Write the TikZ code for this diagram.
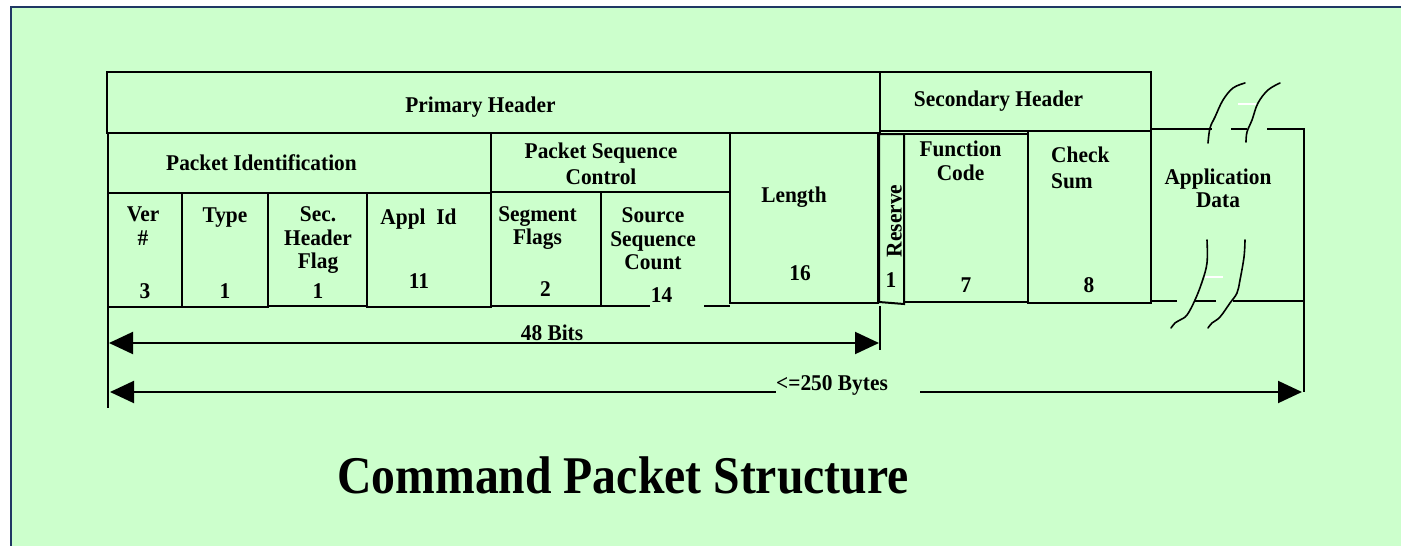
\documentclass[tikz,border=0pt]{standalone}
\usepackage{fontspec}
\setmainfont{Liberation Serif}[FakeStretch=0.95]
\newfontfamily\titlefont{Liberation Serif}[FakeStretch=0.9]
\usetikzlibrary{arrows.meta}
\definecolor{panel}{HTML}{CCFFCC}
\definecolor{framecol}{HTML}{203864}
% stacked lines whose reference point is the first baseline
\newcommand\fieldtext[2][c]{\begin{tabular}[t]{@{}#1@{}}#2\end{tabular}}

\begin{document}
\begin{tikzpicture}[x=1pt,y=-1pt,
  box/.style={draw=black, line width=2pt},
  brk/.style={draw=black, line width=1.6pt, line cap=round},
  gapmark/.style={draw=white, line width=1.5pt},
  lbl/.style={font=\fontsize{22.5}{23.5}\selectfont\bfseries, inner sep=0pt, anchor=base},
  extline/.style={draw=black, line width=1.6pt},
  dimline/.style={draw=black, line width=2pt},
  bigtip/.tip={Triangle[length=24pt,width=22pt]}]

\useasboundingbox (0,0) rectangle (1401,546);
\fill[white] (0,0) rectangle (1401,546);
\draw[framecol, line width=2pt, fill=panel] (11,7) rectangle (1430,570);

% ---- primary and secondary header bands
\draw[box] (107,72) rectangle (880,133);
\draw[box] (880,72) rectangle (1151,131);

% ---- packet identification
\draw[box] (108,133) rectangle (491,193);
\draw[box] (108,193) rectangle (182,307);
\draw[box] (182,193) rectangle (268,307);
\draw[box] (268,193) rectangle (367,306);
\draw[box] (367,193) rectangle (491,307);

% ---- packet sequence control
\draw[box] (491,133) rectangle (730,192);
\draw[box] (491,192) rectangle (601,306);
\draw[box] (650,306) -- (601,306) -- (601,192) -- (730,192);
\draw[box] (704,306) -- (730,306);

% ---- length
\draw[box] (730,133) rectangle (878,303);

% ---- secondary header fields
\draw[box] (879,134) -- (904,134) -- (904,304) -- (879,302) -- cycle;
\draw[box] (904,134) rectangle (1028,302);
\draw[box] (1028,131) rectangle (1151,303);

% ---- application data (open where the break marks cross)
\draw[box] (1151,129) -- (1212,129);
\draw[box] (1231,129) -- (1247,129);
\draw[box] (1267,129) -- (1304,129) -- (1304,301) -- (1233,301);
\draw[box] (1216,301) -- (1195,301);
\draw[box] (1177,301) -- (1151,301);

% break marks
\draw[brk] plot[smooth, tension=0.6] coordinates {(1208,143) (1210,128) (1215,117) (1223,100) (1233,88) (1245,83)};
\draw[brk] plot[smooth, tension=0.6] coordinates {(1246,142) (1247,132) (1252,120) (1258,103) (1268,90) (1280,83)};
\draw[brk] plot[smooth, tension=0.6] coordinates {(1207,240) (1207,263) (1202,282) (1195,300) (1187,315) (1180,320) (1175,323) (1171,328)};
\draw[brk] plot[smooth, tension=0.6] coordinates {(1245,240) (1244,257) (1240,280) (1237,293) (1230,303) (1220,317) (1212,323) (1208,328)};
\draw[gapmark] (1238,104) -- (1256,104);
\draw[gapmark] (1205,277) -- (1223,277);

% ---- labels
\node[lbl] (prim) at (480.5,112) {Primary Header};
\node[lbl] (sec) at (998.5,106.7) {Secondary Header};
\node[lbl] (pid) at (261.5,170) {Packet Identification};
\node[lbl] (psc) at (601,158) {\fieldtext{Packet Sequence\\[2.5pt] Control}};
\node[lbl] (ver) at (143,221.7) {\fieldtext{Ver\\ \#}};
\node[lbl] (type) at (225,222) {Type};
\node[lbl] (shf) at (318,221.7) {\fieldtext{Sec.\\ Header\\ Flag}};
\node[lbl] (apid) at (418.5,224) {Appl\ \ Id};
\node[lbl] (segf) at (537.5,221.7) {\fieldtext{Segment\\[-1pt] Flags}};
\node[lbl] (ssc) at (653,222.7) {\fieldtext{Source\\ Sequence\\ Count}};
\node[lbl] (len) at (794,202.7) {Length};
\node[lbl, rotate=90] (res) at (901.7,221) {Reserve};
\node[lbl] (fc) at (960.5,156.7) {\fieldtext{Function\\ Code}};
\node[lbl, anchor=base west] (cks) at (1051,162.7) {\fieldtext[l]{Check\\[2pt] Sum}};
\node[lbl] (apd) at (1218,184.3) {\fieldtext{Application\\ Data}};

\node[lbl] (nver) at (145,298.3) {3};
\node[lbl] (ntype) at (225,298.3) {1};
\node[lbl] (nshf) at (318,298.3) {1};
\node[lbl] (napid) at (419,288.3) {11};
\node[lbl] (nsegf) at (545.5,296) {2};
\node[lbl] (nssc) at (661.5,302.7) {14};
\node[lbl] (nlen) at (800,280.7) {16};
\node[lbl] (nres) at (891,287.7) {1};
\node[lbl] (nfc) at (966,292.7) {7};
\node[lbl] (ncks) at (1089,292.7) {8};

% ---- dimension lines
\coordinate (extA1) at (108,307);
\coordinate (extA2) at (108,408);
\coordinate (extB1) at (880,306);
\coordinate (extB2) at (880,350);
\coordinate (extC1) at (1304,301);
\coordinate (extC2) at (1304,392);
\draw[extline] (extA1) -- (extA2);
\draw[extline] (extB1) -- (extB2);
\draw[extline] (extC1) -- (extC2);

\coordinate (bitsL) at (109,343);
\coordinate (bitsR) at (879,343);
\draw[dimline, bigtip-bigtip] (bitsL) -- (bitsR);
\node[lbl] (bits) at (552,340) {48 Bits};

\coordinate (byteL) at (110,392);
\coordinate (byteR) at (1302,392);
\coordinate (gapL) at (776,392);
\coordinate (gapR) at (920,392);
\draw[dimline, bigtip-] (byteL) -- (gapL);
\draw[dimline, -bigtip] (gapR) -- (byteR);
\node[lbl] (bytes) at (832,390) {<=250 Bytes};

% ---- caption
\node[font=\titlefont\fontsize{53}{60}\selectfont\bfseries, inner sep=0pt, anchor=base] (title) at (623,493) {Command Packet Structure};
\end{tikzpicture}
\end{document}
